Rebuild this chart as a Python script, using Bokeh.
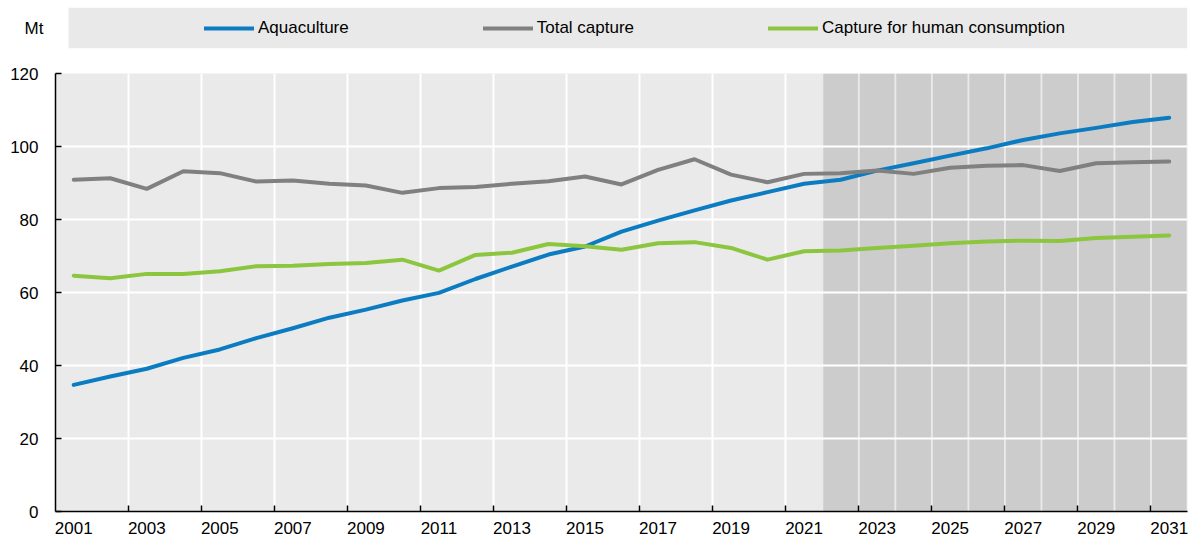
from bokeh.plotting import figure
from bokeh.layouts import column
from bokeh.models import Range1d, FixedTicker, Legend, LegendItem
from bokeh.embed import file_html
from bokeh.resources import INLINE

years = list(range(2001, 2032))
aquaculture = [34.7, 37.0, 39.1, 42.1, 44.4, 47.5, 50.2, 53.1, 55.3, 57.8, 59.9,
               63.7, 67.1, 70.4, 72.6, 76.7, 79.7, 82.5, 85.2, 87.5,
               89.8, 90.9, 93.4, 95.4, 97.5, 99.5, 101.8, 103.6, 105.1, 106.7, 107.9]
total_capture = [90.9, 91.3, 88.4, 93.2, 92.7, 90.4, 90.7, 89.8, 89.3, 87.3, 88.6,
                 88.9, 89.8, 90.5, 91.8, 89.6, 93.6, 96.5, 92.3, 90.2,
                 92.5, 92.7, 93.4, 92.5, 94.2, 94.7, 94.9, 93.3, 95.4, 95.7, 95.9]
human_consumption = [64.6, 63.9, 65.1, 65.1, 65.8, 67.2, 67.3, 67.8, 68.1, 69.0, 66.0,
                     70.3, 70.9, 73.3, 72.7, 71.7, 73.5, 73.8, 72.2, 69.0,
                     71.3, 71.5, 72.2, 72.8, 73.5, 74.0, 74.2, 74.1, 74.9, 75.3, 75.6]
projection_years = list(range(2022, 2032))
y_ticks = [0, 20, 40, 60, 80, 100, 120]
x_labels = list(range(2001, 2032, 2))
series_names = ["Aquaculture", "Total capture", "Capture for human consumption"]
series_values = [aquaculture, total_capture, human_consumption]
colors = ["#0B7CC1", "#808080", "#8CC63F"]
unit_label = "Mt"

FONT = "Liberation Sans"
FS = "17px"
FRAME_W = 1132
LW = 4

# ---------- legend strip (frame in pixel units) ----------
leg = figure(width=1192, height=56, output_backend="svg", toolbar_location=None,
             x_range=Range1d(0, FRAME_W), y_range=Range1d(0, 1),
             min_border_left=55, min_border_right=5, min_border_top=7, min_border_bottom=8)
leg.outline_line_color = None
leg.background_fill_color = "white"
leg.border_fill_color = "white"
leg.grid.visible = False
leg.xaxis.visible = False
leg.quad(left=13, right=FRAME_W, bottom=0, top=1, fill_color="#E9E9E9", line_color=None)
lya = leg.yaxis[0]
lya.ticker = FixedTicker(ticks=[0.5])
lya.major_label_overrides = {0.5: unit_label}
lya.axis_line_color = None
lya.major_tick_line_color = None
lya.minor_tick_line_color = None
lya.major_tick_out = 0
lya.major_tick_in = 0
lya.major_label_standoff = 12
lya.major_label_text_font = FONT
lya.major_label_text_font_size = FS
lya.major_label_text_color = "black"

# legend sample lines (series lie outside this strip's ranges, so only the legend shows them)
leg_renderers = [leg.line(years, [v + 1000 for v in vals], line_color=c, line_width=LW, line_cap="round")
                 for vals, c in zip(series_values, colors)]
legend = Legend(items=[LegendItem(label=n, renderers=[r]) for n, r in zip(series_names, leg_renderers)],
                orientation="horizontal", location=(149, 10),
                glyph_width=50, glyph_height=20, label_standoff=4, spacing=134,
                padding=0, margin=0, border_line_color=None, background_fill_alpha=0,
                label_text_font=FONT, label_text_font_size=FS, label_text_color="black")
leg.add_layout(legend)

# ---------- main chart ----------
p = figure(width=1192, height=483, output_backend="svg", toolbar_location=None,
           x_range=Range1d(2000.5, 2031.5), y_range=Range1d(0, 120),
           min_border_left=55, min_border_right=5, min_border_top=17, min_border_bottom=28)
p.outline_line_color = None
p.background_fill_color = "#EAEAEA"
p.border_fill_color = "white"

# projection shading
p.vbar(x=projection_years, top=[120] * len(projection_years), bottom=0, width=0.95,
       fill_color="#CCCCCC", line_color=None)

# grids
p.xgrid.ticker = FixedTicker(ticks=[y + 0.5 for y in range(2002, 2021, 2)])
p.xgrid.grid_line_color = "white"
p.xgrid.grid_line_width = 2
p.ygrid.grid_line_color = None
p.hspan(y=y_ticks[1:-1], line_color="white", line_width=2)

for vals, c in zip(series_values, colors):
    p.line(years, vals, line_color=c, line_width=LW, line_cap="round", line_join="round")

xa = p.xaxis[0]
xa.ticker = FixedTicker(ticks=x_labels, minor_ticks=[y + 0.5 for y in range(2002, 2031, 2)])
xa.major_tick_line_color = None
xa.major_tick_out = 0
xa.major_tick_in = 0
xa.minor_tick_line_color = "black"
xa.minor_tick_line_width = 1.5
xa.minor_tick_in = 6
xa.minor_tick_out = 0
xa.axis_line_color = "black"
xa.axis_line_width = 1.5
xa.major_label_text_font = FONT
xa.major_label_text_font_size = FS
xa.major_label_text_color = "black"
xa.major_label_standoff = 10

ya = p.yaxis[0]
ya.ticker = FixedTicker(ticks=y_ticks)
ya.major_tick_line_color = "black"
ya.major_tick_line_width = 1.5
ya.major_tick_in = 6
ya.major_tick_out = 0
ya.minor_tick_line_color = None
ya.axis_line_color = "black"
ya.axis_line_width = 1.5
ya.major_label_text_font = FONT
ya.major_label_text_font_size = FS
ya.major_label_text_color = "black"
ya.major_label_standoff = 17

layout = column(leg, p, spacing=0)
open("out.html", "w").write(file_html(layout, INLINE))
